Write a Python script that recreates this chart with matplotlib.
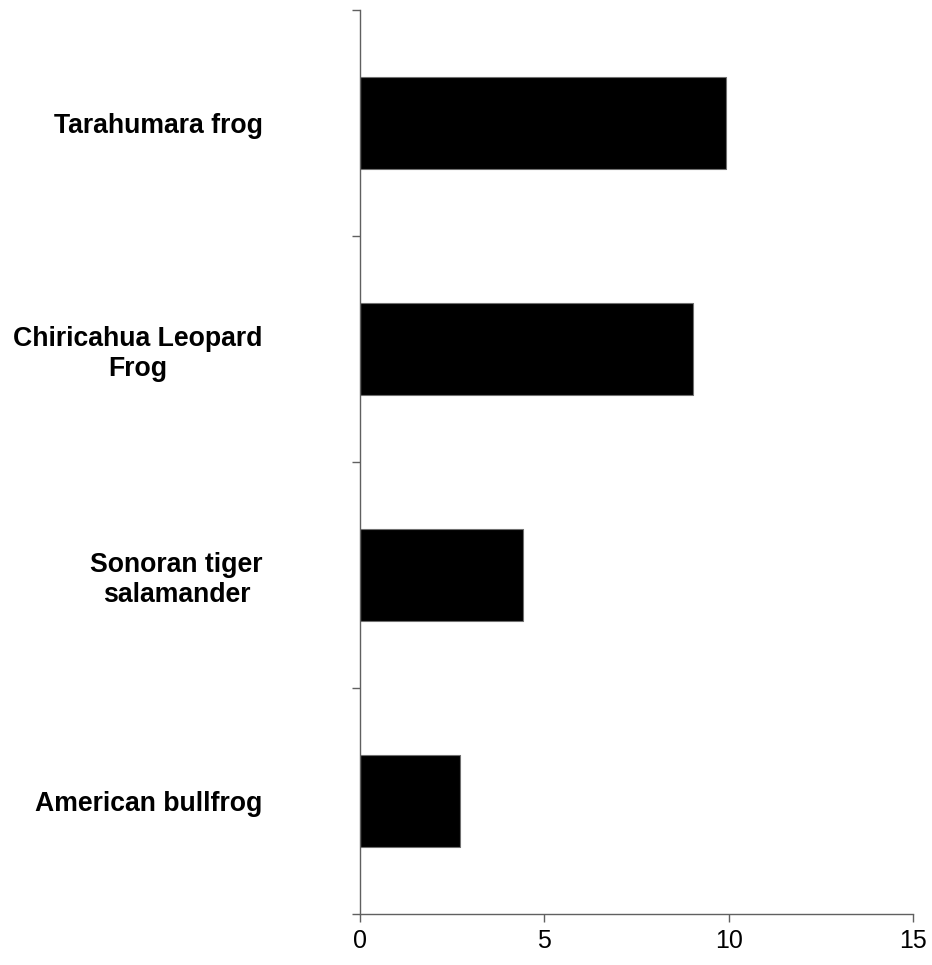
import matplotlib
matplotlib.use("Agg")
import matplotlib.pyplot as plt
import numpy as np

species = ["American bullfrog", "Sonoran tiger\nsalamander",
           "Chiricahua Leopard\nFrog", "Tarahumara frog"]
values = [2.72, 4.43, 9.03, 9.93]
x_ticks = [0, 5, 10, 15]

axis_color = "#606060"

fig = plt.figure(figsize=(9.32, 9.65), dpi=100)
ax = fig.add_axes([360 / 932, 1 - 914 / 965, 553 / 932, 904 / 965])

pos = np.arange(len(species))
ax.barh(pos, values, height=0.41, color="black", edgecolor="#707070", linewidth=0.8)

ax.set_xlim(0, 15)
ax.set_ylim(-0.5, len(species) - 0.5)

for side in ("top", "right"):
    ax.spines[side].set_visible(False)
for side in ("left", "bottom"):
    ax.spines[side].set_color(axis_color)
    ax.spines[side].set_linewidth(1.0)

ax.set_xticks(x_ticks)
ax.set_xticklabels([str(t) for t in x_ticks], fontsize=18, family="Liberation Sans")
ax.tick_params(axis="x", direction="out", length=5.8, width=1.0, color=axis_color, pad=5)

# category boundaries carry the ticks, centres carry the labels
ax.set_yticks(np.arange(-0.5, len(species), 1.0))
ax.set_yticklabels([])
ax.tick_params(axis="y", which="major", direction="out", length=5.8, width=1.0, color=axis_color)
ax.set_yticks(pos, minor=True)
ax.set_yticklabels(species, minor=True, fontsize=19.2, fontweight="bold",
                   family="Liberation Sans", multialignment="center", linespacing=1.2)
ax.tick_params(axis="y", which="minor", length=0, pad=70)

fig.savefig("out.png", dpi=100)
